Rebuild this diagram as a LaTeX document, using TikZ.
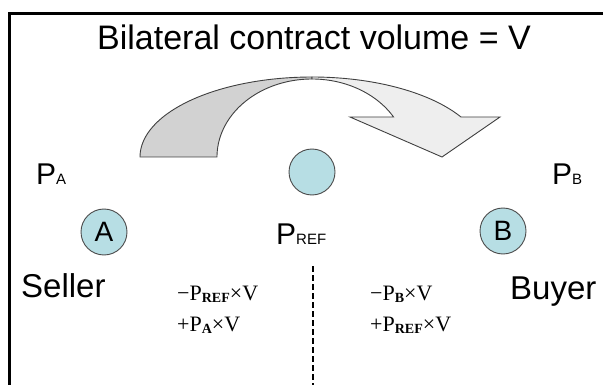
\documentclass[tikz,border=0pt]{standalone}
\usepackage{fontspec}
\setmainfont{Liberation Sans}
\newfontfamily\serifx{Liberation Serif}
\definecolor{cyanl}{RGB}{183,222,228}
\definecolor{bandd}{RGB}{210,210,210}
\definecolor{bandl}{RGB}{238,238,238}
\begin{document}
\begin{tikzpicture}[x=1pt,y=-1pt,
  circ/.style={circle,draw=black!70,line width=0.9pt,fill=cyanl,minimum size=46pt,inner sep=0pt,font=\fontsize{28}{28}\selectfont},
  lbl/.style={inner sep=0pt,anchor=base west,font=\fontsize{30}{30}\selectfont},
  big/.style={inner sep=0pt,anchor=base west,font=\fontsize{33}{33}\selectfont},
  frm/.style={inner sep=0pt,anchor=base west,font=\serifx\fontsize{22}{22}\selectfont},
  band/.style={draw=black!75,line width=0.9pt,line join=miter}]
\useasboundingbox (0,0) rectangle (603,385);
% frame
\draw[line width=3pt] (9,385) -- (9,14) -- (603,14);
% title
\node[inner sep=0pt,anchor=base,font=\fontsize{34}{34}\selectfont] (title) at (314,50) {Bilateral contract volume = V};
% curved arrow: back (dark) part
\filldraw[band,fill=bandd] plot[domain=180:90,samples=60] ({312+172*cos(\x)},{157-80*sin(\x)})
  -- plot[domain=90:180,samples=60] ({312+95*cos(\x)},{157-78*sin(\x)}) -- cycle;
% curved arrow: front (light) part with head
\filldraw[band,fill=bandl] plot[domain=90:30,samples=60] ({312+172*cos(\x)},{157-80*sin(\x)})
  -- (500,117) -- (442,157) -- (350,117)
  -- plot[domain=30.86:90,samples=60] ({312+95*cos(\x)},{157-78*sin(\x)}) -- cycle;
% circles
\node[circ] (A) at (104,232) {A};
\node[circ] (ref) at (312,172) {};
\node[circ] (B) at (503,231) {B};
% price labels
\node[lbl] (pa) at (36,185) {P{\fontsize{15}{15}\selectfont A}};
\node[lbl] (pb) at (552,185) {P{\fontsize{15}{15}\selectfont B}};
\node[lbl] (pref) at (276,244) {P{\fontsize{15}{15}\selectfont REF}};
% roles
\node[big] (seller) at (21,298) {Seller};
\node[big] (buyer) at (510,299) {Buyer};
% settlement formulas
\newcommand{\sbx}[1]{\raisebox{-2pt}{\bfseries\fontsize{14}{14}\selectfont #1}}
\node[frm] (l1) at (177,300) {−P\sbx{REF}×V};
\node[frm] (l2) at (177,331) {+P\sbx{A}×V};
\node[frm] (r1) at (370,300) {−P\sbx{B}×V};
\node[frm] (r2) at (370,331) {+P\sbx{REF}×V};
% divider
\coordinate (d1) at (313,266);
\coordinate (d2) at (313,385);
\draw[line width=2.8pt,dash pattern=on 6pt off 3pt] (d1) -- (d2);
\end{tikzpicture}
\end{document}
